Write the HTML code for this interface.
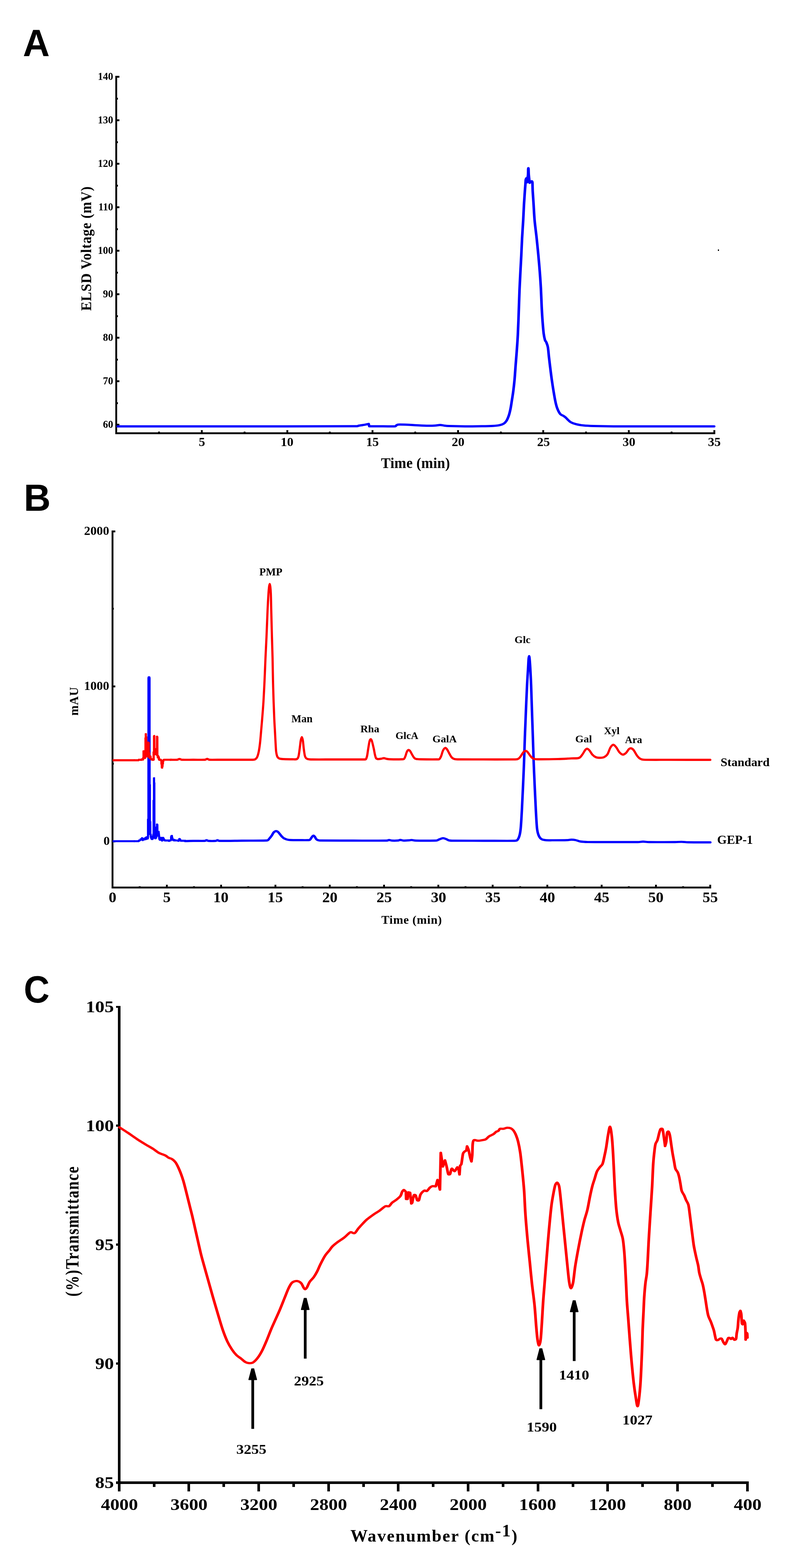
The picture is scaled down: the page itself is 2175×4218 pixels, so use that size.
<!DOCTYPE html>
<html lang="en"><head><meta charset="utf-8"><title>Figure: GEP-1 characterization</title>
<style>html,body{margin:0;padding:0;background:#fff}body{width:2175px;height:4218px;overflow:hidden}svg{display:block}text{fill:#000;white-space:pre}</style></head><body>
<svg width="2175" height="4218" viewBox="0 0 2175 4218">
<rect width="2175" height="4218" fill="#fff"/>
<g id="panel-letters">
<text transform="translate(61.5 150.9) scale(0.9864 1)" font-family="'Liberation Sans',Arial,sans-serif" font-weight="bold" font-size="101.38">A</text>
<text transform="translate(64.05 1373.5) scale(0.9864 1)" font-family="'Liberation Sans',Arial,sans-serif" font-weight="bold" font-size="101.38">B</text>
<text transform="translate(63.96 2696.58) scale(0.9382 1)" font-family="'Liberation Sans',Arial,sans-serif" font-weight="bold" font-size="102.19">C</text>
</g>
<g id="panelA">
<g shape-rendering="crispEdges">
<rect x="310" y="204.4" width="5" height="963.6" fill="#000"/>
<rect x="310" y="1163" width="1612.7" height="5" fill="#000"/>
<rect x="315" y="1140" width="6" height="5" fill="#000"/>
<rect x="315" y="1082" width="2" height="5" fill="#000"/>
<rect x="315" y="1023" width="6" height="5" fill="#000"/>
<rect x="315" y="965" width="2" height="5" fill="#000"/>
<rect x="315" y="906" width="6" height="5" fill="#000"/>
<rect x="315" y="848" width="2" height="5" fill="#000"/>
<rect x="315" y="789" width="6" height="5" fill="#000"/>
<rect x="315" y="731" width="2" height="5" fill="#000"/>
<rect x="315" y="672" width="6" height="5" fill="#000"/>
<rect x="315" y="614" width="2" height="5" fill="#000"/>
<rect x="315" y="555" width="6" height="5" fill="#000"/>
<rect x="315" y="497" width="2" height="5" fill="#000"/>
<rect x="315" y="438" width="6" height="5" fill="#000"/>
<rect x="315" y="380" width="2" height="5" fill="#000"/>
<rect x="315" y="321" width="6" height="5" fill="#000"/>
<rect x="315" y="263" width="2" height="5" fill="#000"/>
<rect x="315" y="204" width="6" height="5" fill="#000"/>
<rect x="425" y="1161" width="5" height="2" fill="#000"/>
<rect x="540" y="1157" width="5" height="6" fill="#000"/>
<rect x="655" y="1161" width="5" height="2" fill="#000"/>
<rect x="770" y="1157" width="5" height="6" fill="#000"/>
<rect x="884" y="1161" width="5" height="2" fill="#000"/>
<rect x="999" y="1157" width="5" height="6" fill="#000"/>
<rect x="1114" y="1161" width="5" height="2" fill="#000"/>
<rect x="1229" y="1157" width="5" height="6" fill="#000"/>
<rect x="1344" y="1161" width="5" height="2" fill="#000"/>
<rect x="1458" y="1157" width="5" height="6" fill="#000"/>
<rect x="1573" y="1161" width="5" height="2" fill="#000"/>
<rect x="1688" y="1157" width="5" height="6" fill="#000"/>
<rect x="1803" y="1161" width="5" height="2" fill="#000"/>
<rect x="1918" y="1157" width="5" height="6" fill="#000"/>
<rect x="1930" y="671" width="3" height="4" fill="#000"/>
</g>
<text transform="translate(276.74 1151.32) scale(0.9663 1)" font-family="'Liberation Serif','Times New Roman',serif" font-weight="bold" font-size="28.44">60</text>
<text transform="translate(276.74 1034.32) scale(0.9663 1)" font-family="'Liberation Serif','Times New Roman',serif" font-weight="bold" font-size="28.44">70</text>
<text transform="translate(276.74 917.32) scale(0.9663 1)" font-family="'Liberation Serif','Times New Roman',serif" font-weight="bold" font-size="28.44">80</text>
<text transform="translate(276.74 800.32) scale(0.9663 1)" font-family="'Liberation Serif','Times New Roman',serif" font-weight="bold" font-size="28.44">90</text>
<text transform="translate(263 683.32) scale(0.9663 1)" font-family="'Liberation Serif','Times New Roman',serif" font-weight="bold" font-size="28.44">100</text>
<text transform="translate(264.51 566.32) scale(0.9663 1)" font-family="'Liberation Serif','Times New Roman',serif" font-weight="bold" font-size="28.44">110</text>
<text transform="translate(263 449.32) scale(0.9663 1)" font-family="'Liberation Serif','Times New Roman',serif" font-weight="bold" font-size="28.44">120</text>
<text transform="translate(263 332.32) scale(0.9663 1)" font-family="'Liberation Serif','Times New Roman',serif" font-weight="bold" font-size="28.44">130</text>
<text transform="translate(263 215.32) scale(0.9663 1)" font-family="'Liberation Serif','Times New Roman',serif" font-weight="bold" font-size="28.44">140</text>
<text transform="translate(534.26 1200.16) scale(1.0089 1)" font-family="'Liberation Serif','Times New Roman',serif" font-weight="bold" font-size="34.07">5</text>
<text transform="translate(754.58 1200.16) scale(1.0089 1)" font-family="'Liberation Serif','Times New Roman',serif" font-weight="bold" font-size="34.07">10</text>
<text transform="translate(984.18 1200.16) scale(1.0089 1)" font-family="'Liberation Serif','Times New Roman',serif" font-weight="bold" font-size="34.07">15</text>
<text transform="translate(1214.42 1200.16) scale(1.0089 1)" font-family="'Liberation Serif','Times New Roman',serif" font-weight="bold" font-size="34.07">20</text>
<text transform="translate(1444.02 1200.16) scale(1.0089 1)" font-family="'Liberation Serif','Times New Roman',serif" font-weight="bold" font-size="34.07">25</text>
<text transform="translate(1673.71 1200.16) scale(1.0089 1)" font-family="'Liberation Serif','Times New Roman',serif" font-weight="bold" font-size="34.07">30</text>
<text transform="translate(1903.31 1200.16) scale(1.0089 1)" font-family="'Liberation Serif','Times New Roman',serif" font-weight="bold" font-size="34.07">35</text>
<text transform="translate(1024.33 1259.2) scale(0.9600 1)" font-family="'Liberation Serif','Times New Roman',serif" font-weight="bold" font-size="39.85" style="letter-spacing:0.28px">Time (min)</text>
<text transform="translate(245.3 836.15) rotate(-90) scale(0.9500 1)" font-family="'Liberation Serif','Times New Roman',serif" font-weight="bold" font-size="39.39" style="letter-spacing:1.1px">ELSD Voltage (mV)</text>
<path d="M271.2 1147C326 1147 508.06 1147.08 600 1147C684.69 1146.92 785 1146.83 822.86 1146.5C824.58 1146.48 825.46 1145.39 827.14 1145C829.29 1144.5 832.47 1144.16 835.71 1143.5C839 1142.83 844.54 1141.52 846.86 1141C847.9 1140.77 849.14 1140.5 849.6 1140.4L850.97 1146.8C856.29 1146.8 872.87 1146.8 882.86 1146.8C892.84 1146.8 905.74 1147.27 910.89 1146.8C912.39 1146.66 912.63 1144.77 913.71 1144C914.8 1143.23 915.84 1142.29 917.4 1142.2C921.5 1141.97 931.21 1142.3 938.31 1142.6C945.41 1142.9 951.96 1143.55 960 1144C968.04 1144.45 979.43 1145.17 986.57 1145.3C992.76 1145.42 998.26 1145.15 1002.86 1144.8C1007.19 1144.47 1010.6 1143.17 1014.17 1143.2C1017.74 1143.23 1020.79 1144.53 1024.29 1145C1027.79 1145.47 1031.02 1145.83 1035.17 1146C1043.03 1146.32 1058.93 1146.8 1071.43 1146.9C1083.93 1147 1099.41 1146.8 1110.17 1146.6C1119.98 1146.42 1129.09 1146.2 1135.97 1145.7C1141.9 1145.27 1147.4 1144.57 1151.49 1143.6C1155.08 1142.75 1157.91 1141.77 1160.49 1139.9C1163.06 1138.03 1165.13 1135.7 1166.91 1132.4C1168.94 1128.63 1171.06 1122.82 1172.66 1117.3C1174.26 1111.78 1175.34 1106.2 1176.51 1099.3C1177.71 1092.28 1178.79 1083.23 1179.86 1075.2C1180.93 1067.17 1181.96 1060.13 1182.94 1051.1C1183.93 1042.07 1184.91 1032.05 1185.77 1021C1186.63 1009.95 1187.26 997.35 1188.09 984.8C1188.91 972.25 1189.87 959.75 1190.74 945.7C1191.61 931.65 1192.56 917.69 1193.31 900.5C1194.09 882.92 1194.73 860.28 1195.37 840.2C1196.01 820.12 1196.53 798.15 1197.17 780C1197.81 761.85 1198.54 746.95 1199.23 731.3C1199.91 715.65 1200.64 701.15 1201.29 686.1C1201.93 671.05 1202.36 656.55 1203.09 641C1203.81 625.45 1204.93 607.87 1205.66 592.8C1206.39 577.73 1206.81 563.65 1207.46 550.6C1208.1 537.55 1208.96 523.77 1209.51 514.5C1209.96 507.09 1210.47 500.08 1210.8 495C1211.07 490.82 1211.17 486.5 1211.49 484C1211.68 482.43 1212.29 480.83 1212.69 480C1212.94 479.46 1213.69 479.17 1213.89 479L1214.57 490.5C1214.94 487.08 1216.37 475.92 1216.8 470C1217.21 464.31 1217.01 457.95 1217.14 455C1217.19 453.96 1217.5 452.75 1217.57 452.3C1217.64 452.75 1217.94 453.96 1218 455C1218.16 457.95 1218.12 464.31 1218.51 470C1218.94 476.17 1220.23 488.33 1220.57 492C1220.93 491.58 1221.89 490.25 1222.71 489.5C1223.54 488.75 1224.84 487.25 1225.54 487.5C1226.24 487.75 1226.81 489.58 1226.91 491C1227.26 495.5 1227.19 505.58 1227.6 514.5C1228.06 524.43 1228.93 537.55 1229.66 550.6C1230.39 563.65 1230.8 577.73 1231.97 592.8C1233.14 607.87 1235.26 625.45 1236.69 641C1238.11 656.55 1239.34 671.05 1240.54 686.1C1241.74 701.15 1242.9 716.23 1243.89 731.3C1244.87 746.37 1245.73 760.85 1246.46 776.5C1247.19 792.15 1247.61 810.57 1248.26 825.2C1248.9 839.83 1249.54 852.25 1250.31 864.3C1251.09 876.35 1251.93 888.97 1252.89 897.5C1253.66 904.4 1255.1 911.75 1256.06 915.5C1256.54 917.41 1257.97 918.14 1258.63 920C1259.7 923.02 1261.65 928.29 1262.49 933.6C1263.56 940.38 1264.11 951.17 1265.06 960.7C1266 970.23 1267.07 980.75 1268.14 990.8C1269.21 1000.85 1270.27 1010.95 1271.49 1021C1272.7 1031.05 1274 1041.07 1275.43 1051.1C1276.86 1061.13 1278.56 1073.17 1280.06 1081.2C1281.36 1088.16 1282.63 1093.93 1284.43 1099.3C1286.23 1104.67 1288.49 1110.13 1290.86 1113.4C1292.99 1116.33 1296.5 1117.23 1298.66 1118.9C1300.71 1120.49 1301.99 1121.54 1303.8 1123.4C1306.37 1126.05 1310.21 1131.9 1314.09 1134.8C1317.96 1137.7 1321.86 1139.18 1327.03 1140.8C1332.2 1142.42 1338.23 1143.63 1345.11 1144.5C1352 1145.37 1359.5 1145.69 1368.34 1146C1379.87 1146.4 1396.82 1146.8 1414.29 1146.9C1443.37 1147.07 1504.29 1146.98 1542.86 1147C1581.43 1147.02 1628.57 1147 1645.71 1147" fill="none" stroke="#0000ff" stroke-width="6" stroke-linejoin="round" stroke-linecap="round" transform="scale(1.16667 1)"/>
</g>
<g id="panelB">
<g shape-rendering="crispEdges">
<rect x="300" y="1427" width="5" height="963" fill="#000"/>
<rect x="300" y="2385" width="1611.7" height="5" fill="#000"/>
<rect x="305" y="2261" width="5" height="5" fill="#000"/>
<rect x="305" y="2052" width="1" height="5" fill="#000"/>
<rect x="305" y="1844" width="5" height="5" fill="#000"/>
<rect x="305" y="1635" width="1" height="5" fill="#000"/>
<rect x="305" y="1427" width="5" height="5" fill="#000"/>
<rect x="373" y="2384" width="5" height="1" fill="#000"/>
<rect x="446" y="2380" width="5" height="5" fill="#000"/>
<rect x="519" y="2384" width="5" height="1" fill="#000"/>
<rect x="592" y="2380" width="5" height="5" fill="#000"/>
<rect x="665" y="2384" width="5" height="1" fill="#000"/>
<rect x="738" y="2380" width="5" height="5" fill="#000"/>
<rect x="811" y="2384" width="5" height="1" fill="#000"/>
<rect x="884" y="2380" width="5" height="5" fill="#000"/>
<rect x="957" y="2384" width="5" height="1" fill="#000"/>
<rect x="1030" y="2380" width="5" height="5" fill="#000"/>
<rect x="1103" y="2384" width="5" height="1" fill="#000"/>
<rect x="1176" y="2380" width="5" height="5" fill="#000"/>
<rect x="1249" y="2384" width="5" height="1" fill="#000"/>
<rect x="1322" y="2380" width="5" height="5" fill="#000"/>
<rect x="1396" y="2384" width="5" height="1" fill="#000"/>
<rect x="1469" y="2380" width="5" height="5" fill="#000"/>
<rect x="1542" y="2384" width="5" height="1" fill="#000"/>
<rect x="1615" y="2380" width="5" height="5" fill="#000"/>
<rect x="1688" y="2384" width="5" height="1" fill="#000"/>
<rect x="1761" y="2380" width="5" height="5" fill="#000"/>
<rect x="1834" y="2384" width="5" height="1" fill="#000"/>
<rect x="1907" y="2380" width="5" height="5" fill="#000"/>
</g>
<text transform="translate(278.2 2273.02) scale(1.0210 1)" font-family="'Liberation Serif','Times New Roman',serif" font-weight="bold" font-size="33.04">0</text>
<text transform="translate(226.1 1856.12) scale(1.0210 1)" font-family="'Liberation Serif','Times New Roman',serif" font-weight="bold" font-size="33.04">1000</text>
<text transform="translate(226.1 1439.22) scale(1.0210 1)" font-family="'Liberation Serif','Times New Roman',serif" font-weight="bold" font-size="33.04">2000</text>
<text transform="translate(292.28 2426.71) scale(1.0519 1)" font-family="'Liberation Serif','Times New Roman',serif" font-weight="bold" font-size="39.26">0</text>
<text transform="translate(438.3 2426.71) scale(1.0519 1)" font-family="'Liberation Serif','Times New Roman',serif" font-weight="bold" font-size="39.26">5</text>
<text transform="translate(573.23 2426.71) scale(1.0519 1)" font-family="'Liberation Serif','Times New Roman',serif" font-weight="bold" font-size="39.26">10</text>
<text transform="translate(719.31 2426.71) scale(1.0519 1)" font-family="'Liberation Serif','Times New Roman',serif" font-weight="bold" font-size="39.26">15</text>
<text transform="translate(866.17 2426.71) scale(1.0519 1)" font-family="'Liberation Serif','Times New Roman',serif" font-weight="bold" font-size="39.26">20</text>
<text transform="translate(1012.25 2426.71) scale(1.0519 1)" font-family="'Liberation Serif','Times New Roman',serif" font-weight="bold" font-size="39.26">25</text>
<text transform="translate(1158.43 2426.71) scale(1.0519 1)" font-family="'Liberation Serif','Times New Roman',serif" font-weight="bold" font-size="39.26">30</text>
<text transform="translate(1304.51 2426.71) scale(1.0519 1)" font-family="'Liberation Serif','Times New Roman',serif" font-weight="bold" font-size="39.26">35</text>
<text transform="translate(1451.11 2426.71) scale(1.0519 1)" font-family="'Liberation Serif','Times New Roman',serif" font-weight="bold" font-size="39.26">40</text>
<text transform="translate(1597.19 2426.71) scale(1.0519 1)" font-family="'Liberation Serif','Times New Roman',serif" font-weight="bold" font-size="39.26">45</text>
<text transform="translate(1742.7 2426.71) scale(1.0519 1)" font-family="'Liberation Serif','Times New Roman',serif" font-weight="bold" font-size="39.26">50</text>
<text transform="translate(1888.78 2426.71) scale(1.0519 1)" font-family="'Liberation Serif','Times New Roman',serif" font-weight="bold" font-size="39.26">55</text>
<text transform="translate(1025.21 2484.8) scale(1.0000 1)" font-family="'Liberation Serif','Times New Roman',serif" font-weight="bold" font-size="32.37" style="letter-spacing:0.85px">Time (min)</text>
<text transform="translate(209.8 1925) rotate(-90) scale(1.0000 1)" font-family="'Liberation Serif','Times New Roman',serif" font-weight="bold" font-size="32.88" style="letter-spacing:0.97px">mAU</text>
<path d="M302.5 2262.9L362 2262.9" fill="none" stroke="#0000ff" stroke-width="5.4" stroke-linejoin="round" stroke-linecap="butt"/>
<path d="M360 2260.28L370.54 2260.28L371.6 2258.7L374.76 2258.17L375.81 2255.54L378.45 2255.01L379.5 2252.16L384.46 2252.16L385.3 2253.96L387.62 2253.43L388.46 2252.16L390.57 2251.53L391.63 2249.95L395.1 2249.21L395.1 2203.04L396.16 2202.62L396.16 2101.63L396.3 1824L396.9 1821L398.2 1819.2L403 1819.2L404.3 1821L404.9 1824L405.12 2101.63L405.12 2109.85L405.86 2110.27L405.86 2208.94L406.91 2209.36L407.12 2242.89L407.97 2243.41L408.28 2248.16L409.02 2248.16L409.55 2242.89L410.07 2242.36L410.07 2152.23L411.13 2151.7L411.13 2092.35L412.18 2091.08L416.93 2091.08L417.14 2104.79L417.77 2105.32L417.98 2223.91L419.03 2223.38L419.25 2216L421.14 2215.27L424.31 2215.48L425.89 2218.11L426.1 2234.98L429.05 2235.3L429.58 2239.2L430.63 2248.16L431.16 2251.32L440.65 2251.32L442.23 2253.96L443.28 2256.59L445.39 2258.17L456.99 2258.17L457.2 2251.32L458.25 2247.63L459.62 2246.05L464.58 2246.05L465.42 2251.32L467 2256.59L471.74 2257.12L472.27 2258.17L479.12 2258.17L479.33 2255.33L481.76 2253.96L484.39 2254.48L486.5 2256.06L487.56 2258.7L500 2258.91L500 2264.5L485.45 2264.5L484.92 2263.76L481.23 2263.76L480.7 2264.81L477.54 2264.81L477.01 2263.44L466.47 2263.44L465.95 2262.71L463.31 2262.39L462.26 2260.28L461.2 2262.92L457.51 2263.76L456.46 2264.81L452.24 2264.81L451.71 2263.76L442.23 2263.76L440.65 2262.39L439.06 2261.86L438.54 2263.76L433.27 2263.76L432.74 2261.65L428.52 2261.65L426.41 2259.75L425.36 2256.59L424.83 2250.79L423.25 2250.79L422.72 2253.96L420.09 2257.64L415.34 2257.86L414.82 2256.06L413.76 2256.06L412.18 2259.23L411.66 2259.75L406.38 2259.75L404.8 2257.64L402.69 2252.37L402.17 2246.05L400.9 2246.05L400.59 2255.01L399 2258.17L395.84 2258.7L393.73 2259.75L386.35 2261.33L385.3 2262.71L382.66 2262.71L381.61 2261.33L378.98 2261.86L375.81 2263.97L373.7 2265.55L360 2265.55Z" fill="#0000ff"/>
<path d="M432.09 2262.6C435.27 2262.5 443.92 2262.1 451.18 2262C458.7 2261.9 472.1 2262.28 477.21 2262C479.07 2261.9 480.36 2260.3 481.8 2260.3C483.25 2260.3 484.21 2261.87 485.88 2262C489.45 2262.28 499.68 2262.28 503.24 2262C504.88 2261.87 505.78 2260.3 507.23 2260.3C508.67 2260.3 510.02 2261.96 511.91 2262C521.37 2262.2 545.37 2261.72 563.97 2261.5C582.57 2261.28 612.79 2261.62 623.49 2260.7C626 2260.48 626.59 2257.96 628.18 2256C629.91 2253.85 632.17 2250.63 633.9 2247.8C635.64 2244.97 636.84 2241.02 638.59 2239C640.25 2237.08 642.67 2235.78 644.4 2235.7C646.14 2235.62 647.55 2237.05 649 2238.5C650.52 2240.02 652.07 2242.8 653.51 2244.8C654.96 2246.8 656.16 2248.75 657.68 2250.5C659.19 2252.25 660.6 2253.97 662.62 2255.3C664.65 2256.63 667.21 2257.75 669.82 2258.5C672.44 2259.25 675.06 2259.63 678.33 2259.8C683.1 2260.05 691.27 2260 698.46 2260C705.64 2260 717.11 2260.3 721.45 2259.8C723.01 2259.62 723.55 2258.26 724.49 2257C725.57 2255.53 726.81 2252.5 727.96 2251C729 2249.63 730.26 2248 731.34 2248C732.42 2248 733.53 2249.64 734.46 2251C735.49 2252.5 736.4 2255.53 737.5 2257C738.53 2258.38 739.61 2259.13 741.06 2259.8C742.5 2260.47 744.18 2260.96 746.18 2261C760.04 2261.25 798.24 2261.25 824.26 2261.3C850.29 2261.35 888.43 2261.55 902.35 2261.3C904.51 2261.26 905.67 2259.8 907.82 2259.8C909.99 2259.8 912.45 2261.13 915.37 2261.3C918.79 2261.5 925.29 2261.3 928.38 2261C930.56 2260.79 931.77 2259.47 933.94 2259.5C936.1 2259.53 938.49 2261.06 941.4 2261.2C944.81 2261.37 951.3 2260.77 954.41 2260.5C956.57 2260.31 957.88 2259.5 960.05 2259.6C962.65 2259.72 966.19 2261.08 970.03 2261.2C979.21 2261.48 1006.79 2261.42 1015.15 2261.3C1017.08 2261.27 1018.44 2261.13 1020.18 2260.5C1021.91 2259.87 1023.42 2258.45 1025.56 2257.5C1027.73 2256.53 1030.74 2254.78 1033.19 2254.7C1035.65 2254.62 1038.26 2256.12 1040.31 2257C1042.36 2257.88 1044.08 2259.33 1045.51 2260C1046.73 2260.57 1047.58 2260.77 1048.9 2261C1050.34 2261.25 1052.17 2261.48 1054.19 2261.5C1067.36 2261.62 1103.72 2261.65 1127.94 2261.7C1152.16 2261.75 1186.42 2262.08 1199.52 2261.8C1202.28 2261.74 1204.71 2262.05 1206.55 2260C1208.57 2257.75 1210.49 2253.01 1211.67 2248.3C1213.03 2242.87 1214.04 2235.4 1214.71 2227.4C1215.65 2216.15 1216.47 2198.27 1217.31 2180.8C1218.15 2163.33 1218.9 2143.95 1219.74 2122.6C1220.58 2101.25 1221.57 2076 1222.34 2052.7C1223.11 2029.4 1223.6 2006.1 1224.34 1982.8C1225.07 1959.5 1225.91 1936.2 1226.77 1912.9C1227.62 1889.6 1228.6 1862.4 1229.46 1843C1230.23 1825.32 1231.28 1808.33 1231.89 1796.5C1232.36 1787.19 1232.71 1777.25 1233.1 1772C1233.3 1769.31 1233.85 1765 1234.23 1765C1234.6 1765 1235.13 1769.32 1235.36 1772C1235.8 1777.25 1236.45 1787.18 1236.92 1796.5C1237.51 1808.33 1238.31 1825.32 1238.91 1843C1239.58 1862.4 1240.23 1889.6 1240.91 1912.9C1241.59 1936.2 1242.31 1959.5 1242.99 1982.8C1243.67 2006.1 1244.22 2029.4 1244.99 2052.7C1245.75 2076 1246.75 2101.25 1247.59 2122.6C1248.43 2143.95 1249.18 2163.33 1250.02 2180.8C1250.86 2198.27 1251.61 2216.53 1252.62 2227.4C1253.29 2234.56 1254.5 2241.15 1256.09 2246C1257.53 2250.38 1259.48 2254.17 1262.17 2256.5C1264.86 2258.83 1268.21 2259.48 1272.23 2260C1277.28 2260.65 1284.76 2260.4 1292.45 2260.4C1300.88 2260.4 1316.08 2260.27 1322.81 2260C1326.66 2259.85 1329.51 2258.8 1332.88 2258.8C1336.25 2258.8 1339.66 2259.22 1343.03 2260C1346.4 2260.78 1349.11 2262.77 1353.1 2263.5C1357.74 2264.35 1364.1 2264.95 1370.88 2265.1C1383.97 2265.38 1412.1 2265.18 1431.62 2265.2C1451.14 2265.22 1476.59 2265.4 1488.01 2265.2C1492.65 2265.12 1495.82 2264 1500.16 2264C1504.5 2264 1508.75 2265.11 1514.04 2265.2C1526.48 2265.4 1562.11 2265.3 1574.78 2265.2C1580.59 2265.15 1584.99 2264.5 1590.05 2264.6C1595.11 2264.7 1599.39 2265.68 1605.15 2265.8C1616.28 2266.03 1648.24 2265.97 1656.86 2266" fill="none" stroke="#0000ff" stroke-width="5.9" stroke-linejoin="round" stroke-linecap="round" transform="scale(1.15254 1)"/>
<path d="M302.5 2045.1L362 2045.1" fill="none" stroke="#ff0000" stroke-width="5.7" stroke-linejoin="round" stroke-linecap="butt"/>
<path d="M360 2042.24L371.3 2042.24L371.3 2041.11L378.83 2041.11L379.2 2039.98L381.84 2039.98L382.21 2037.35L382.97 2037.35L382.97 2020.03L384.1 2018.15L387.86 2018.15L388.24 2017.02L388.24 1984.26L388.99 1983.89L388.99 1973.34L390.12 1972.21L393.89 1972.21L395.02 1973.34L395.02 1980.87L395.99 1981.25L395.99 1989.91L396.3 1994.95L400.66 1994.95L401.79 1995.93L402.92 1997.82L402.92 2023.8L404.05 2024.17L404.05 2031.7L405.93 2032.08L407.59 2033.96L407.97 2038.86L409.32 2039.98L410.08 2039.61L410.08 2021.91L411.2 2021.54L411.2 1980.12L412.11 1978.24L413.46 1977.11L416.1 1977.11L417.83 1979.37L417.98 2012.5L419.11 2012.5L419.26 1980.12L420.99 1978.99L424.01 1978.99L425.89 1982L426.04 2030.95L427.02 2031.33L428.67 2033.96L430.03 2037.35L430.41 2040.36L431.54 2041.11L434.55 2041.49L436.05 2044.13L438.31 2041.87L440.57 2041.11L460 2041.11L460 2046.39L442.08 2046.39L441.7 2049.4L440.95 2050.15L440.95 2055.42L439.97 2056.17L439.82 2062.58L439.07 2062.95L438.69 2066.72L437.56 2067.85L434.17 2067.85L432.29 2065.96L431.91 2056.55L431.16 2056.17L431.01 2047.14L428.15 2046.76L425.51 2045.63L424.01 2042.62L423.86 2039.98L421.37 2039.23L421.37 2034.34L419.86 2033.96L419.86 2031.7L416.1 2031.7L416.1 2044.5L413.84 2046.76L408.57 2046.76L407.44 2045.63L405.18 2045.63L402.92 2042.62L400.66 2040.74L398.78 2039.61L397.65 2037.35L393.13 2037.73L393.13 2040.36L392 2041.49L388.24 2041.87L386.73 2045.63L382.59 2046.01L382.59 2046.76L373.93 2046.76L373.55 2047.89L360 2047.89Z" fill="#ff0000"/>
<path d="M458 2043.8C458.33 2043.8 459.24 2043.8 460 2043.8C463.17 2043.8 473.75 2044 477 2043.8C478.05 2043.74 478.58 2042.97 479.5 2042.6C480.42 2042.23 481.5 2041.6 482.5 2041.6C483.5 2041.6 484.58 2042.23 485.5 2042.6C486.42 2042.97 486.95 2043.76 488 2043.8C493.75 2044 509.5 2043.8 520 2043.8C530.5 2043.8 545.33 2044 551 2043.8C552.23 2043.76 552.98 2043 554 2042.6C555.02 2042.2 556.1 2041.4 557.1 2041.4C558.1 2041.4 559.02 2042.2 560 2042.6C560.98 2043 561.77 2043.77 563 2043.8C569.67 2043.98 587.17 2043.72 600 2043.7C612.83 2043.68 626.8 2043.7 640 2043.7C653.2 2043.7 671.5 2043.9 679.2 2043.7C681.9 2043.63 684.18 2043.67 686.2 2042.5C688.22 2041.33 690.05 2039.36 691.3 2036.7C692.85 2033.4 694.38 2028.14 695.5 2022.7C696.78 2016.48 697.95 2008.29 699 1999.4C700.05 1990.47 700.83 1979.97 701.8 1969.1C702.77 1958.23 703.74 1947.47 704.8 1934.2C705.88 1920.62 707.22 1905.07 708.3 1887.6C709.38 1870.13 710.4 1848.8 711.3 1829.4C712.2 1810 712.83 1790.62 713.7 1771.2C714.57 1751.78 715.57 1734.27 716.5 1712.9C717.43 1691.53 718.42 1662.4 719.3 1643C720.1 1625.32 721.1 1607.33 721.8 1596.5C722.26 1589.46 722.95 1582.25 723.5 1578C723.85 1575.29 724.57 1571 725.1 1571C725.63 1571 726.38 1575.29 726.7 1578C727.2 1582.25 727.82 1589.46 728.1 1596.5C728.53 1607.33 728.84 1625.33 729.3 1643C729.8 1662.4 730.52 1691.53 731.1 1712.9C731.68 1734.27 732.33 1751.78 732.8 1771.2C733.27 1790.62 733.43 1810 733.9 1829.4C734.37 1848.8 735.02 1870.13 735.6 1887.6C736.18 1905.07 736.78 1920.62 737.4 1934.2C738 1947.47 738.72 1958.23 739.3 1969.1C739.88 1979.97 740.37 1990.47 740.9 1999.4C741.43 2008.26 741.72 2016.68 742.5 2022.7C743.15 2027.66 744.32 2032.58 745.6 2035.5C746.61 2037.79 748.07 2039.15 750.2 2040.2C752.33 2041.25 755.23 2041.6 758.4 2041.8C764.42 2042.18 779.7 2042.47 786.3 2042.5C790.75 2042.52 795.28 2043.35 798 2042C800.72 2040.65 801.74 2037.67 802.6 2034.4C803.95 2029.25 805.12 2018.1 806.1 2011.1C807.08 2004.1 807.6 1997.08 808.5 1992.4C809.21 1988.72 810.53 1983 811.5 1983C812.47 1983 813.68 1988.72 814.3 1992.4C815.15 1997.47 815.75 2006.8 816.6 2013.4C817.45 2020 818.43 2027.73 819.4 2032C820.04 2034.82 821.12 2037.37 822.4 2039C823.68 2040.63 825.07 2041.34 827.1 2041.8C830.03 2042.47 835.08 2042.92 840 2043C852.15 2043.2 877.2 2043 900 2043C923.33 2043 966.02 2043.17 980 2043C981.53 2042.98 983.02 2043.25 983.9 2042C985.07 2040.33 986.23 2036.53 987 2033C988 2028.42 988.82 2021 989.9 2014.5C990.98 2008 992.33 1998.33 993.5 1994C994.14 1991.63 995.82 1988.5 996.9 1988.5C997.98 1988.5 999.29 1991.71 1000 1994C1001.35 1998.33 1003.67 2008.5 1005 2014.5C1006.3 2020.36 1007 2025.83 1008 2030C1008.88 2033.68 1009.67 2037.5 1011 2039.5C1012.18 2041.27 1013.89 2041.77 1016 2042C1018.33 2042.25 1022.32 2041.42 1025 2041C1027.68 2040.58 1029.6 2039.42 1032.1 2039.5C1034.6 2039.58 1037.02 2041 1040 2041.5C1042.98 2042 1046.18 2042.4 1050 2042.5C1056.67 2042.67 1073.95 2042.67 1080 2042.5C1082.42 2042.43 1084.63 2042.92 1086.3 2041.5C1087.97 2040.08 1088.83 2036.96 1090 2034C1091.28 2030.75 1092.6 2024.75 1094 2022C1095.09 2019.87 1096.9 2017.67 1098.4 2017.5C1099.9 2017.33 1101.66 2019.26 1103 2021C1104.6 2023.08 1106.33 2027.17 1108 2030C1109.67 2032.83 1111.33 2036.08 1113 2038C1114.52 2039.75 1115.76 2040.91 1118 2041.5C1120.83 2042.25 1125.43 2042.4 1130 2042.5C1139.67 2042.72 1167.47 2042.88 1176 2042.8C1178 2042.78 1179.7 2043.32 1181.2 2042C1182.87 2040.53 1184.61 2037.26 1186 2034C1187.63 2030.17 1189.18 2022.67 1191 2019C1192.54 2015.88 1195.07 2012.5 1196.9 2012C1198.73 2011.5 1200.53 2014.02 1202 2016C1203.85 2018.5 1206 2023.5 1208 2027C1210 2030.5 1211.93 2034.58 1214 2037C1215.93 2039.26 1217.73 2040.53 1220.4 2041.5C1223.07 2042.47 1226.32 2042.74 1230 2042.8C1243.27 2043.03 1275 2042.88 1300 2042.9C1325 2042.92 1364.7 2043.05 1380 2042.9C1384.5 2042.86 1388.8 2042.98 1391.8 2042C1394.68 2041.06 1396.01 2039.28 1398 2037C1400.03 2034.67 1402.17 2030.58 1404 2028C1405.8 2025.46 1407.47 2022.83 1409 2021.5C1410.28 2020.39 1411.7 2019.83 1413.2 2020C1414.7 2020.17 1416.56 2021.03 1418 2022.5C1419.8 2024.33 1422 2028.42 1424 2031C1426 2033.58 1428 2036.25 1430 2038C1431.99 2039.74 1433.5 2040.75 1436 2041.5C1438.5 2042.25 1441.56 2042.48 1445 2042.5C1455.67 2042.57 1484.82 2042.3 1500 2041.9C1513.73 2041.54 1526.68 2040.6 1536.1 2040.1C1543.85 2039.69 1551.6 2040.6 1556.5 2038.9C1561.07 2037.31 1562.68 2033.47 1565.5 2029.9C1568.32 2026.33 1571.22 2020.13 1573.4 2017.5C1574.91 2015.68 1576.72 2013.92 1578.6 2014.1C1580.48 2014.28 1582.79 2016.44 1584.7 2018.6C1587.03 2021.23 1589.77 2026.88 1592.6 2029.9C1595.43 2032.92 1598.3 2035.27 1601.7 2036.7C1605.1 2038.13 1609.25 2038.5 1613 2038.5C1616.75 2038.5 1620.82 2038.32 1624.2 2036.7C1627.58 2035.08 1630.79 2032.63 1633.3 2028.8C1636.13 2024.47 1638.57 2014.92 1641.2 2010.7C1643.35 2007.25 1646.47 2003.5 1649.1 2003.5C1651.73 2003.5 1654.45 2007.54 1657 2010.7C1659.63 2013.97 1662.08 2019.9 1664.9 2023.1C1667.72 2026.3 1670.88 2029.52 1673.9 2029.9C1676.92 2030.28 1680.17 2027.85 1683 2025.4C1685.83 2022.95 1688.65 2017.27 1690.9 2015.2C1692.58 2013.65 1694.43 2012.62 1696.5 2013C1698.57 2013.38 1701.33 2015.11 1703.3 2017.5C1705.93 2020.7 1709.47 2028.37 1712.3 2032.2C1714.9 2035.72 1717.28 2038.6 1720.3 2040.5C1723.32 2042.4 1726.39 2043.43 1730.4 2043.6C1743.68 2044.17 1773.55 2043.84 1800 2043.9C1829.87 2043.97 1891.33 2043.98 1909.6 2044" fill="none" stroke="#ff0000" stroke-width="5.9" stroke-linejoin="round" stroke-linecap="round"/>
<text transform="translate(697.3 1548.2) scale(1.0066 1)" font-family="'Liberation Serif','Times New Roman',serif" font-weight="bold" font-size="28.4">PMP</text>
<text transform="translate(783.5 1943) scale(1.0005 1)" font-family="'Liberation Serif','Times New Roman',serif" font-weight="bold" font-size="28.4">Man</text>
<text transform="translate(969 1970.2) scale(1.0139 1)" font-family="'Liberation Serif','Times New Roman',serif" font-weight="bold" font-size="28.09">Rha</text>
<text transform="translate(1063.21 1987.92) scale(0.9861 1)" font-family="'Liberation Serif','Times New Roman',serif" font-weight="bold" font-size="28.1">GlcA</text>
<text transform="translate(1162.56 1996.92) scale(1.0242 1)" font-family="'Liberation Serif','Times New Roman',serif" font-weight="bold" font-size="28.1">GalA</text>
<text transform="translate(1383.37 1729.62) scale(1.0297 1)" font-family="'Liberation Serif','Times New Roman',serif" font-weight="bold" font-size="27.81">Glc</text>
<text transform="translate(1546.45 1996.62) scale(1.0256 1)" font-family="'Liberation Serif','Times New Roman',serif" font-weight="bold" font-size="28.25">Gal</text>
<text transform="translate(1623.71 1974.5) scale(1.0234 1)" font-family="'Liberation Serif','Times New Roman',serif" font-weight="bold" font-size="27.48">Xyl</text>
<text transform="translate(1680.22 1998.8) scale(1.0039 1)" font-family="'Liberation Serif','Times New Roman',serif" font-weight="bold" font-size="27.58">Ara</text>
<text transform="translate(1937.17 2060.87) scale(1.0123 1)" font-family="'Liberation Serif','Times New Roman',serif" font-weight="bold" font-size="32.57">Standard</text>
<text transform="translate(1928.04 2270.06) scale(0.9894 1)" font-family="'Liberation Serif','Times New Roman',serif" font-weight="bold" font-size="33.61">GEP-1</text>
</g>
<g id="panelC">
<g shape-rendering="crispEdges">
<rect x="316.9" y="2705.5" width="7" height="1286.3" fill="#000"/>
<rect x="316.9" y="3985" width="1695.7" height="6.8" fill="#000"/>
<rect x="311.9" y="3985" width="5" height="6.8" fill="#000"/>
<rect x="311.9" y="3664.5" width="5" height="6.6" fill="#000"/>
<rect x="311.9" y="3344.5" width="5" height="6.6" fill="#000"/>
<rect x="311.9" y="3024.5" width="5" height="6.6" fill="#000"/>
<rect x="311.9" y="2705.5" width="5" height="5" fill="#000"/>
<rect x="316.8" y="3991.8" width="7" height="19.7" fill="#000"/>
<rect x="410.73" y="3991.8" width="6.8" height="8" fill="#000"/>
<rect x="504.47" y="3991.8" width="7" height="19.7" fill="#000"/>
<rect x="598.4" y="3991.8" width="6.8" height="8" fill="#000"/>
<rect x="692.14" y="3991.8" width="7" height="19.7" fill="#000"/>
<rect x="786.07" y="3991.8" width="6.8" height="8" fill="#000"/>
<rect x="879.8" y="3991.8" width="7" height="19.7" fill="#000"/>
<rect x="973.74" y="3991.8" width="6.8" height="8" fill="#000"/>
<rect x="1067.47" y="3991.8" width="7" height="19.7" fill="#000"/>
<rect x="1161.41" y="3991.8" width="6.8" height="8" fill="#000"/>
<rect x="1255.14" y="3991.8" width="7" height="19.7" fill="#000"/>
<rect x="1349.07" y="3991.8" width="6.8" height="8" fill="#000"/>
<rect x="1442.81" y="3991.8" width="7" height="19.7" fill="#000"/>
<rect x="1536.74" y="3991.8" width="6.8" height="8" fill="#000"/>
<rect x="1630.48" y="3991.8" width="7" height="19.7" fill="#000"/>
<rect x="1724.41" y="3991.8" width="6.8" height="8" fill="#000"/>
<rect x="1818.14" y="3991.8" width="7" height="19.7" fill="#000"/>
<rect x="1912.08" y="3991.8" width="6.8" height="8" fill="#000"/>
<rect x="2005.81" y="3991.8" width="7" height="19.7" fill="#000"/>
</g>
<text transform="translate(255.84 4002.65) scale(1.1178 1)" font-family="'Liberation Serif','Times New Roman',serif" font-weight="bold" font-size="45.04">85</text>
<text transform="translate(255.84 3682.65) scale(1.1178 1)" font-family="'Liberation Serif','Times New Roman',serif" font-weight="bold" font-size="45.04">90</text>
<text transform="translate(255.84 3362.65) scale(1.1178 1)" font-family="'Liberation Serif','Times New Roman',serif" font-weight="bold" font-size="45.04">95</text>
<text transform="translate(230.67 3042.65) scale(1.1178 1)" font-family="'Liberation Serif','Times New Roman',serif" font-weight="bold" font-size="45.04">100</text>
<text transform="translate(230.67 2722.65) scale(1.1178 1)" font-family="'Liberation Serif','Times New Roman',serif" font-weight="bold" font-size="45.04">105</text>
<text transform="translate(271.18 4061.95) scale(1.1127 1)" font-family="'Liberation Serif','Times New Roman',serif" font-weight="bold" font-size="44.89">4000</text>
<text transform="translate(458.22 4061.95) scale(1.1127 1)" font-family="'Liberation Serif','Times New Roman',serif" font-weight="bold" font-size="44.89">3600</text>
<text transform="translate(645.89 4061.95) scale(1.1127 1)" font-family="'Liberation Serif','Times New Roman',serif" font-weight="bold" font-size="44.89">3200</text>
<text transform="translate(833.43 4061.95) scale(1.1127 1)" font-family="'Liberation Serif','Times New Roman',serif" font-weight="bold" font-size="44.89">2800</text>
<text transform="translate(1021.1 4061.95) scale(1.1127 1)" font-family="'Liberation Serif','Times New Roman',serif" font-weight="bold" font-size="44.89">2400</text>
<text transform="translate(1208.77 4061.95) scale(1.1127 1)" font-family="'Liberation Serif','Times New Roman',serif" font-weight="bold" font-size="44.89">2000</text>
<text transform="translate(1395.5 4061.95) scale(1.1127 1)" font-family="'Liberation Serif','Times New Roman',serif" font-weight="bold" font-size="44.89">1600</text>
<text transform="translate(1583.17 4061.95) scale(1.1127 1)" font-family="'Liberation Serif','Times New Roman',serif" font-weight="bold" font-size="44.89">1200</text>
<text transform="translate(1784.51 4061.95) scale(1.1127 1)" font-family="'Liberation Serif','Times New Roman',serif" font-weight="bold" font-size="44.89">800</text>
<text transform="translate(1972.67 4061.95) scale(1.1127 1)" font-family="'Liberation Serif','Times New Roman',serif" font-weight="bold" font-size="44.89">400</text>
<text transform="translate(941.9 4147) scale(1.0000 1)" font-family="'Liberation Serif','Times New Roman',serif" font-weight="bold" font-size="46.56" style="letter-spacing:2.49px">Wavenumber (cm<tspan dy="-13.8">-1</tspan><tspan dy="13.8">)</tspan></text>
<text transform="translate(210.9 3487.83) rotate(-90) scale(0.8100 1)" font-family="'Liberation Serif','Times New Roman',serif" font-weight="bold" font-size="50.23" style="letter-spacing:2.46px">(%)Transmittance</text>
<path d="M263.92 3032.5C267.22 3035.12 277.12 3042.82 283.73 3048.2C290.33 3053.58 296.93 3059.53 303.53 3064.8C310.14 3070.07 317.58 3075.53 323.34 3079.8C328.9 3083.91 333.6 3086.88 338.14 3090.4C342.67 3093.92 346 3097.9 350.55 3100.9C355.1 3103.9 361.71 3106.13 365.42 3108.4C368.53 3110.3 370.34 3112.88 372.82 3114.5C375.3 3116.12 377.85 3116.12 380.3 3118.1C382.78 3120.1 385.47 3122.88 387.7 3126.5C389.96 3130.17 391.81 3134.83 393.86 3140.1C395.92 3145.37 398.16 3152.08 400.03 3158.1C401.89 3164.12 403.38 3169.42 405.04 3176.2C406.7 3182.98 408.33 3191.02 409.97 3198.8C411.62 3206.58 413.26 3214.87 414.9 3222.9C416.55 3230.93 418.18 3238.97 419.84 3247C421.49 3255.03 423.06 3261.92 424.85 3271.1C426.71 3280.63 428.96 3293.17 431.01 3304.2C433.07 3315.23 435.11 3326.25 437.18 3337.3C439.25 3348.35 441.6 3361.35 443.42 3370.5C445.07 3378.77 446.25 3383.97 448.11 3392.2C450.74 3403.85 455.49 3424.33 459.21 3440.4C462.92 3456.47 466.47 3472.03 470.38 3488.6C474.3 3505.17 479 3524.75 482.71 3539.8C486.38 3554.68 489.36 3567.37 492.66 3578.9C495.96 3590.43 499.22 3600.47 502.52 3609C505.72 3617.27 509.16 3624.07 512.47 3630.1C515.76 3636.11 519.03 3641.18 522.33 3645.2C525.57 3649.14 528.97 3651.08 532.27 3654.2C535.58 3657.32 539.04 3661.78 542.14 3663.9C545.03 3665.88 547.96 3666.75 550.85 3666.9C553.74 3667.05 556.8 3666.85 559.48 3664.8C562.58 3662.43 566.27 3657.75 569.42 3652.7C572.73 3647.42 576.03 3640.78 579.29 3633.1C582.59 3625.32 585.93 3615.53 589.23 3606C592.53 3596.47 595.79 3585.43 599.1 3575.9C602.4 3566.37 605.74 3557.83 609.04 3548.8C612.34 3539.77 615.6 3531.23 618.9 3521.7C622.21 3512.17 625.75 3500.88 628.85 3491.6C631.95 3482.32 634.81 3472.78 637.48 3466C639.82 3460.05 642.4 3454.17 644.88 3450.9C646.88 3448.26 649.88 3447.05 652.36 3446.4C654.84 3445.75 657.49 3446 659.75 3447C662.01 3448 664.2 3449.8 665.92 3452.4C667.78 3455.22 669.56 3461.28 670.93 3463.9C671.86 3465.68 672.9 3468.25 674.14 3468.1C675.37 3467.95 677.18 3465.23 678.33 3463C680.05 3459.63 682.01 3452.43 684.49 3447.9C686.97 3443.37 690.52 3440.32 693.21 3435.8C695.89 3431.28 698.14 3426.57 700.6 3420.8C703.07 3415.03 705.11 3408.23 708 3401.2C710.89 3394.17 714.64 3384.87 717.95 3378.6C721.12 3372.56 725.05 3367.87 727.81 3363.6C730.39 3359.6 731.51 3356.65 734.47 3353C737.42 3349.35 741.23 3345.65 745.56 3341.7C749.89 3337.75 756.41 3333.07 760.44 3329.3C764.27 3325.72 767.25 3321.55 769.73 3319.1C771.67 3317.18 773 3314.9 775.32 3314.6C777.63 3314.3 780.84 3319 783.62 3317.3C786.4 3315.6 789.05 3308.62 792 3304.4C794.95 3300.18 798.19 3295.95 801.29 3292C804.38 3288.05 806.7 3284.69 810.58 3280.7C814.59 3276.57 820.73 3271.15 825.37 3267.2C830.01 3263.25 834.1 3260.7 838.44 3257C842.78 3253.3 847.88 3247.07 851.42 3245C854.15 3243.41 857.26 3246.18 859.73 3244.6C862.19 3243.02 863.59 3238.33 866.22 3235.5C868.85 3232.67 872.41 3230.6 875.51 3227.6C878.6 3224.6 882.62 3221.07 884.79 3217.5C886.97 3213.93 887.33 3208.95 888.58 3206.2C889.58 3203.99 890.89 3201 892.27 3201C893.66 3201 896.11 3205.33 896.88 3206.2L897.45 3225.4L900.58 3225.4L902.47 3207.3L906.16 3208.4L908.96 3237.8L910.85 3235.5C911.47 3232.12 913.32 3218.58 914.55 3215.2C915.03 3213.88 917.58 3213.97 918.25 3215.2C919.48 3217.47 920.71 3226.53 921.95 3228.8C922.62 3230.03 925.04 3230.07 925.64 3228.8C926.89 3226.17 927.41 3217.33 929.42 3213C931.44 3208.67 935.41 3204.32 937.73 3202.8C939.54 3201.61 941.5 3205.08 943.32 3203.9C945.33 3202.58 947.79 3197.08 949.81 3194.9C951.59 3192.96 953.23 3191.37 955.4 3190.8C957.56 3190.23 961.56 3191.38 962.79 3191.5L966.82 3174L972.16 3200.3L973.97 3100.9L978.66 3138.1L983.26 3121.2C983.88 3124.02 985.73 3131.88 986.96 3138.1C988.19 3144.32 989.41 3155.1 990.66 3158.5C991.15 3159.85 993.79 3159.78 994.44 3158.5C995.68 3156.05 996.44 3145.12 998.14 3143.8C999.84 3142.48 1002.62 3151.17 1004.63 3150.6C1006.64 3150.03 1008.82 3141.73 1010.22 3140.4C1011.2 3139.47 1012.55 3142.23 1013.01 3142.6L1015.4 3159.6L1016.71 3135.9C1017.18 3135.15 1019.12 3133.37 1019.51 3131.4C1020.59 3125.93 1021.97 3108.75 1023.21 3103.1C1023.75 3100.61 1025.67 3098.82 1026.9 3097.5C1028.04 3096.29 1029.99 3095.58 1030.6 3095.2L1032.08 3083.5C1032.62 3085.08 1034.43 3089.29 1035.29 3093C1036.44 3097.97 1037.9 3108.03 1038.99 3113.3C1039.88 3117.63 1041.32 3122.72 1041.78 3124.6C1042.08 3121.58 1043.18 3113.4 1043.59 3106.5C1044.05 3098.58 1043.96 3083.68 1044.58 3077.1C1044.95 3073.14 1045.29 3068.42 1047.29 3067C1049.29 3065.58 1053.48 3068.6 1056.58 3068.6C1059.67 3068.6 1063.07 3067.65 1065.86 3067C1068.66 3066.35 1070.89 3066.38 1073.34 3064.7C1075.82 3063 1077.96 3059.05 1080.74 3056.8C1083.52 3054.55 1087.4 3053.27 1090.03 3051.2C1092.66 3049.13 1094.66 3045.92 1096.52 3044.4C1098.06 3043.15 1099.81 3043.42 1101.21 3042.1C1102.6 3040.78 1103.05 3037.43 1104.9 3036.5C1106.75 3035.57 1109.67 3036.95 1112.3 3036.5C1114.93 3036.05 1117.9 3034 1120.68 3033.8C1123.47 3033.6 1126.67 3034.1 1128.99 3035.3C1131.3 3036.5 1132.98 3038.42 1134.58 3041C1136.44 3044.02 1138.47 3048.52 1140.16 3053.4C1141.86 3058.3 1143.45 3063.84 1144.77 3070.4C1146.32 3078.12 1148.07 3088.51 1149.45 3099.7C1150.85 3110.98 1152.07 3126.05 1153.15 3138.1C1154.23 3150.15 1155.08 3160.7 1155.95 3172C1156.81 3183.3 1157.63 3193 1158.33 3205.9C1159.18 3221.65 1159.79 3244.77 1161.04 3266.5C1162.29 3288.23 1164.21 3314.95 1165.81 3336.3C1167.41 3357.65 1169.05 3375.18 1170.66 3394.6C1172.26 3414.02 1173.67 3433.4 1175.42 3452.8C1177.18 3472.2 1179.59 3491.58 1181.18 3511C1182.77 3530.42 1183.85 3553.77 1184.96 3569.3C1185.91 3582.57 1186.81 3595.87 1187.84 3604.2C1188.55 3610.03 1190 3619.3 1191.12 3619.3C1192.25 3619.3 1193.97 3610.06 1194.58 3604.2C1195.63 3593.92 1196.49 3575.07 1197.45 3557.6C1198.41 3540.13 1199.22 3518.8 1200.33 3499.4C1201.44 3480 1202.84 3460.62 1204.11 3441.2C1205.38 3421.78 1206.53 3404.27 1207.97 3382.9C1209.41 3361.53 1210.99 3336.28 1212.74 3313C1214.49 3289.72 1216.74 3260.67 1218.49 3243.2C1219.83 3229.84 1221.82 3217.52 1223.26 3208.2C1224.49 3200.22 1225.75 3191.77 1227.12 3187.3C1227.94 3184.64 1230.05 3180.63 1231.48 3181.4C1232.9 3182.17 1234.99 3187.66 1235.67 3191.9C1237.01 3200.25 1238.21 3216.44 1239.53 3231.5C1240.97 3247.82 1242.7 3270.38 1244.3 3289.8C1245.9 3309.22 1247.55 3328.6 1249.15 3348C1250.75 3367.4 1252.49 3389.52 1253.92 3406.2C1255.28 3422.13 1256.42 3438.2 1257.7 3448.1C1258.57 3454.85 1260.12 3465.2 1261.56 3465.6C1263 3466 1265.38 3456.44 1266.33 3450.5C1267.92 3440.6 1269.18 3421.35 1271.1 3406.2C1273.01 3391.05 1275.44 3375.13 1277.84 3359.6C1280.23 3344.07 1283.25 3325.8 1285.48 3313C1287.49 3301.49 1289.16 3292.5 1291.23 3282.8C1293.3 3273.1 1295.81 3265.53 1297.89 3254.8C1299.97 3244.07 1301.9 3229.02 1303.73 3218.4C1305.51 3208 1307.12 3198.97 1308.82 3191.1C1310.47 3183.47 1312.22 3177.82 1313.92 3171.2C1315.62 3164.58 1317.14 3156.57 1319.01 3151.4C1320.67 3146.83 1323.14 3143.52 1325.18 3140.2C1327.22 3136.88 1329.91 3135.3 1331.26 3131.5C1332.96 3126.73 1334 3119.05 1335.37 3111.6C1336.74 3104.15 1338.13 3096.26 1339.48 3086.8C1340.84 3077.28 1342.08 3063.82 1343.51 3054.5C1344.89 3045.47 1346.59 3030.07 1348.03 3030.9C1349.47 3031.73 1351.13 3048.57 1352.14 3059.5C1353.26 3071.72 1353.99 3088.48 1354.77 3104.2C1355.55 3119.92 1356.14 3137.25 1356.82 3153.8C1357.51 3170.35 1358.03 3186.93 1358.88 3203.5C1359.73 3220.07 1360.73 3239.13 1361.92 3253.2C1363.04 3266.43 1364.49 3278.38 1366.03 3287.9C1367.42 3296.52 1369.42 3302.85 1371.12 3310.3C1372.82 3317.75 1374.94 3324 1376.22 3332.6C1377.58 3341.7 1378.41 3353.3 1379.26 3364.9C1380.11 3376.5 1380.65 3388.02 1381.32 3402.2C1382 3416.7 1382.7 3435.35 1383.37 3451.9C1384.04 3468.45 1384.49 3484.95 1385.34 3501.5C1386.19 3518.05 1387.44 3534.63 1388.47 3551.2C1389.49 3567.77 1390.34 3582.73 1391.51 3600.9C1392.67 3619.07 1393.97 3640.27 1395.45 3660.2C1396.93 3680.13 1398.74 3703.42 1400.38 3720.5C1401.93 3736.57 1403.9 3752.28 1405.32 3762.7C1406.37 3770.46 1407.73 3783 1408.85 3783C1409.97 3783 1411.26 3770.47 1412.05 3762.7C1413.12 3752.28 1414.37 3736.56 1415.26 3720.5C1416.21 3703.42 1417.1 3677 1417.73 3660.2C1418.3 3644.81 1418.64 3633.73 1419.04 3619.7C1419.44 3605.67 1419.6 3591.55 1420.11 3576C1420.62 3560.45 1421.51 3540.88 1422.08 3526.4C1422.65 3512.23 1422.88 3501.52 1423.56 3489.1C1424.25 3476.68 1425.25 3462.25 1426.19 3451.9C1427.06 3442.41 1428.45 3436.5 1429.23 3427C1430.08 3416.65 1430.62 3403.94 1431.29 3389.8C1431.97 3375.32 1432.59 3356.67 1433.34 3340.1C1434.1 3323.53 1434.96 3306.95 1435.81 3290.4C1436.66 3273.85 1437.56 3257.35 1438.44 3240.8C1439.32 3224.25 1440.22 3209.73 1441.07 3191.1C1441.92 3172.47 1442.62 3145.55 1443.53 3129C1444.32 3114.84 1445.73 3100.48 1446.58 3091.8C1447.13 3086.11 1447.6 3081.05 1448.63 3076.9C1449.62 3072.91 1451.65 3070.86 1452.74 3066.9C1454.11 3061.93 1455.66 3052.07 1456.85 3047.1C1457.78 3043.24 1458.7 3038.68 1459.89 3037.1C1460.84 3035.84 1463.52 3036.1 1464 3037.6C1465.19 3041.33 1466.1 3051.92 1467.04 3059.5C1467.99 3067.08 1469.23 3079.17 1469.67 3083.1C1470.08 3081.23 1471.59 3076.22 1472.14 3071.9C1472.89 3065.9 1473.34 3051.73 1474.19 3047.1C1474.48 3045.5 1476.22 3042.87 1477.23 3044.1C1478.25 3045.33 1479.57 3050.44 1480.27 3054.5C1481.29 3060.37 1482.29 3071.02 1483.32 3079.3C1484.34 3087.58 1485.41 3096.75 1486.44 3104.2C1487.47 3111.65 1488.47 3117.38 1489.48 3124C1490.49 3130.62 1491.16 3138.93 1492.52 3143.9C1493.64 3147.98 1496.25 3150.07 1497.62 3153.8C1498.99 3157.53 1499.82 3161.49 1500.74 3166.3C1501.77 3171.68 1502.84 3179.9 1503.78 3186.1C1504.73 3192.3 1505.05 3198.53 1506.41 3203.5C1507.77 3208.47 1510.32 3211.77 1511.92 3215.9C1513.52 3220.03 1514.49 3224.15 1516.03 3228.3C1517.56 3232.45 1520.03 3235.79 1521.12 3240.8C1522.48 3247.02 1523.15 3256.5 1524.16 3265.6C1525.18 3274.7 1526.18 3285.47 1527.21 3295.4C1528.23 3305.33 1529.3 3315.68 1530.33 3325.2C1531.36 3334.72 1532.01 3342.98 1533.37 3352.5C1534.73 3362.02 1536.89 3373.63 1538.47 3382.3C1540 3390.76 1541.71 3397.67 1542.82 3404.5C1543.93 3411.33 1544.1 3417.35 1545.12 3423.3C1546.15 3429.25 1547.7 3434.87 1548.99 3440.2C1550.27 3445.53 1551.68 3449.65 1552.85 3455.3C1554.01 3460.95 1554.95 3467.2 1555.97 3474.1C1557 3481 1557.99 3488.85 1559.01 3496.7C1560.04 3504.55 1561.1 3513.98 1562.14 3521.2C1563.17 3528.37 1563.85 3534.35 1565.26 3540C1566.67 3545.65 1569.05 3550.38 1570.6 3555.1C1572.15 3559.82 1573.38 3564.23 1574.55 3568.3C1575.71 3572.37 1576.7 3575.43 1577.59 3579.5C1578.48 3583.57 1579.11 3588.62 1579.89 3592.7C1580.67 3596.78 1581.23 3601.95 1582.27 3604C1582.96 3605.35 1584.73 3605.47 1586.14 3605C1587.55 3604.53 1589.33 3601.83 1590.74 3601.2C1592.08 3600.6 1593.67 3600.07 1594.6 3601.2C1595.89 3602.77 1597.18 3608.08 1598.47 3610.6C1599.66 3612.93 1601.16 3616.45 1602.33 3616.3C1603.49 3616.15 1604.4 3612.27 1605.45 3609.7C1606.62 3606.87 1608.15 3601.03 1609.32 3599.3C1609.98 3598.31 1611.41 3598.83 1612.44 3599.3C1613.47 3599.77 1614.45 3602.25 1615.48 3602.1C1616.51 3601.95 1617.44 3598.08 1618.6 3598.4C1619.77 3598.72 1621.18 3603.38 1622.47 3604C1623.75 3604.62 1625.83 3603.66 1626.33 3602.1C1627.23 3599.28 1627.25 3592.12 1627.89 3587.1C1628.53 3582.08 1629.6 3577.77 1630.19 3572C1630.84 3565.72 1631.11 3556.3 1631.75 3549.4C1632.4 3542.5 1633.33 3534.52 1634.05 3530.6C1634.41 3528.68 1635.77 3526.68 1636.11 3525.9C1636.41 3527.32 1637.6 3531.11 1637.92 3534.4C1638.48 3540.2 1638.96 3556 1639.48 3560.7C1639.58 3561.63 1640.78 3562.28 1641.04 3562.6L1643.34 3552.2C1643.81 3553.3 1645.73 3556.11 1646.14 3558.8C1646.78 3563.05 1646.96 3570.51 1647.21 3577.7C1647.47 3585.23 1647.62 3599.62 1647.7 3604L1649.59 3585.2C1649.84 3585.52 1650.93 3586.19 1651.07 3587.1C1651.4 3589.3 1651.48 3596.52 1651.56 3598.4" fill="none" stroke="#ff0000" stroke-width="6" stroke-linejoin="round" stroke-linecap="round" transform="scale(1.21667 1)"/>
<path d="M675.8 3681L683.2 3681L691.1 3711.1L691.1 3711.8L690.1 3712.6L683.2 3712.6L683.2 3843.7L675.8 3843.7L675.8 3712.6L668.9 3712.6L667.9 3711.8L667.9 3711.1Z" fill="#000"/>
<path d="M816.9 3491.6L824.3 3491.6L832.2 3522.5L832.2 3523.2L831.2 3524L824.3 3524L824.3 3654.8L816.9 3654.8L816.9 3524L810 3524L809 3523.2L809 3522.5Z" fill="#000"/>
<path d="M1450.4 3627.1L1457.8 3627.1L1465.7 3657.3L1465.7 3658L1464.7 3658.8L1457.8 3658.8L1457.8 3790.7L1450.4 3790.7L1450.4 3658.8L1443.5 3658.8L1442.5 3658L1442.5 3657.3Z" fill="#000"/>
<path d="M1540 3497.8L1547.4 3497.8L1555.3 3528.2L1555.3 3528.9L1554.3 3529.7L1547.4 3529.7L1547.4 3661.3L1540 3661.3L1540 3529.7L1533.1 3529.7L1532.1 3528.9L1532.1 3528.2Z" fill="#000"/>
<text transform="translate(635.18 3911.04) scale(1.1182 1)" font-family="'Liberation Serif','Times New Roman',serif" font-weight="bold" font-size="36.28">3255</text>
<text transform="translate(790.29 3727.14) scale(1.1128 1)" font-family="'Liberation Serif','Times New Roman',serif" font-weight="bold" font-size="36.13">2925</text>
<text transform="translate(1415.96 3851.14) scale(1.1337 1)" font-family="'Liberation Serif','Times New Roman',serif" font-weight="bold" font-size="35.7">1590</text>
<text transform="translate(1502.64 3711.04) scale(1.1350 1)" font-family="'Liberation Serif','Times New Roman',serif" font-weight="bold" font-size="35.85">1410</text>
<text transform="translate(1673.26 3832.23) scale(1.1061 1)" font-family="'Liberation Serif','Times New Roman',serif" font-weight="bold" font-size="36.59">1027</text>
</g>
</svg></body></html>
